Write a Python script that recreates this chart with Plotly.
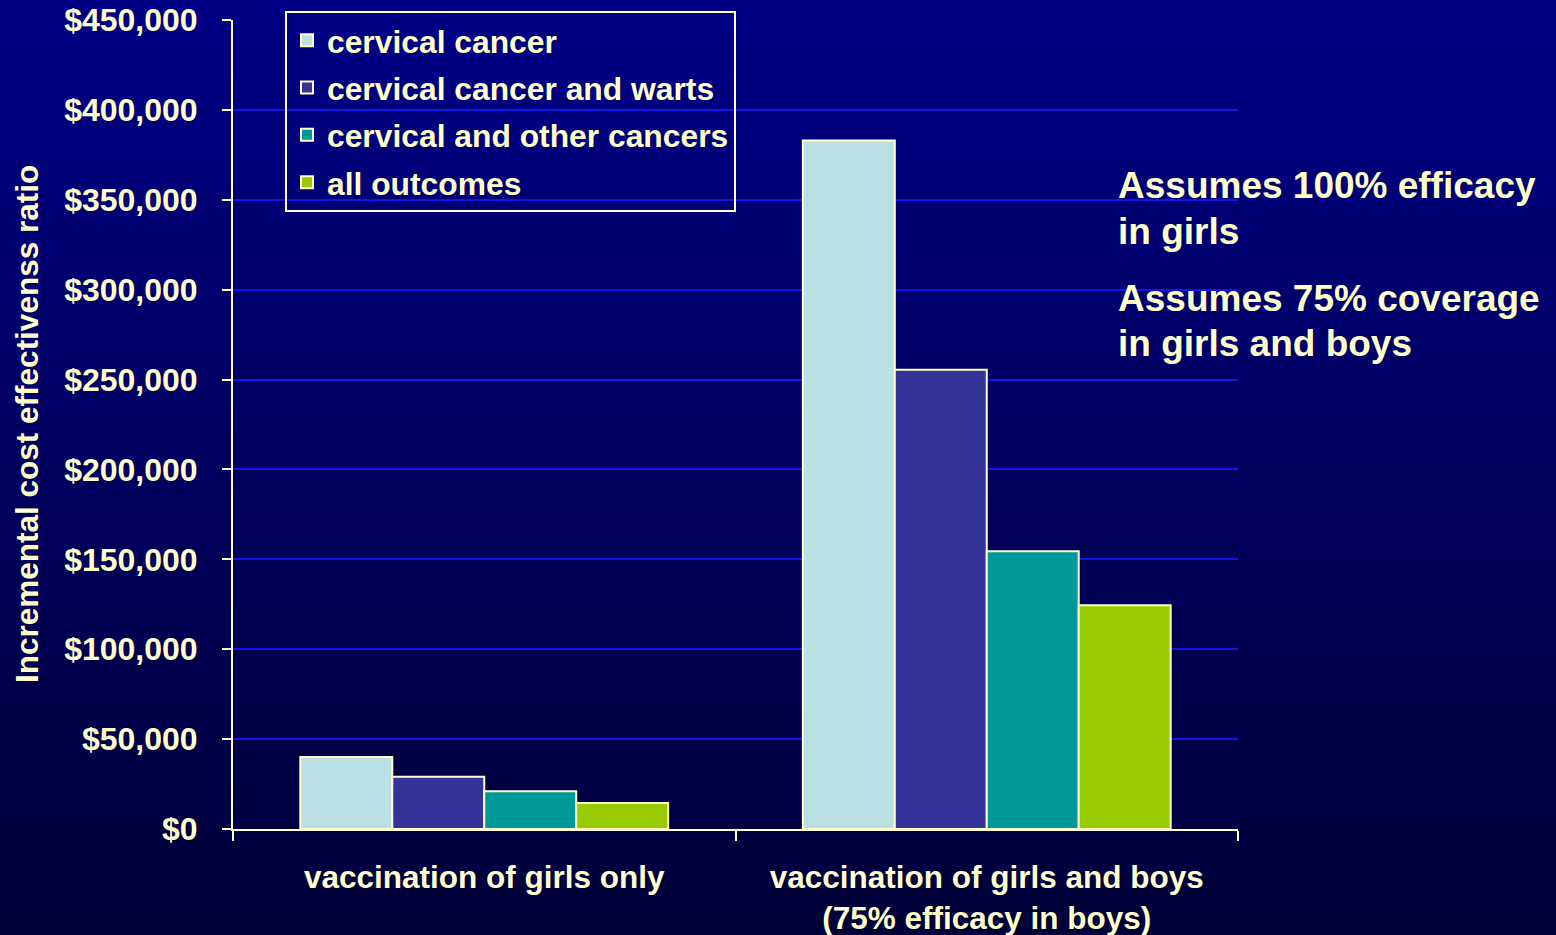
import plotly.graph_objects as go

categories = ["vaccination of girls only", "vaccination of girls and boys<br>(75% efficacy in boys)"]
series_names = ["cervical cancer", "cervical cancer and warts", "cervical and other cancers", "all outcomes"]
cervical_cancer = [40000, 383000]
cervical_warts = [29000, 255500]
cervical_other = [21000, 154500]
all_outcomes = [14500, 124500]
series_values = [cervical_cancer, cervical_warts, cervical_other, all_outcomes]
series_colors = ["#BBE0E3", "#333399", "#009999", "#99CC00"]
y_ticks = [0, 50000, 100000, 150000, 200000, 250000, 300000, 350000, 400000, 450000]
y_tick_labels = ["$" + format(v, ",") for v in y_ticks]
note_lines = ["Assumes 100% efficacy", "in girls", "Assumes 75% coverage", "in girls and boys"]

CREAM = "#FFFFCC"
FONT = "Liberation Sans, Arial, sans-serif"
W, H = 1556, 935
ML, MR, MT, MB = 233, 318, 20, 106
PH = H - MT - MB
PW = W - ML - MR

fig = go.Figure()
for name, vals, col in zip(series_names, series_values, series_colors):
    fig.add_trace(go.Bar(
        x=categories, y=vals, name=name, legendgroup=name,
        marker=dict(color=col, line=dict(color=CREAM, width=2)),
    ))

# gradient background
shapes = []
top_c = (0, 0, 134)
bot_c = (0, 0, 56)
N = 60
for i in range(N):
    y0px = H * i / N
    y1px = H * (i + 1) / N
    t = (i + 0.5) / N
    c = tuple(int(round(top_c[k] + (bot_c[k] - top_c[k]) * t)) for k in range(3))
    shapes.append(dict(
        type="rect", xref="paper", yref="paper", layer="below",
        x0=-ML / PW, x1=1 + MR / PW,
        y0=(H - MB - y1px) / PH, y1=(H - MB - y0px) / PH + 0.002,
        fillcolor="rgb(%d,%d,%d)" % c, line=dict(width=0),
    ))

note_y_px = [186, 231, 298, 343]
annotations = [
    dict(text="Incremental cost effectivenss ratio", textangle=-90,
         xref="paper", yref="paper", x=(27 - ML) / PW, y=(H - MB - 424) / PH,
         xanchor="center", yanchor="middle", showarrow=False,
         font=dict(family=FONT, color=CREAM, size=31.5, weight="bold")),
]
for txt, ypx in zip(note_lines, note_y_px):
    annotations.append(dict(
        text=txt, align="left", xref="paper", yref="paper",
        x=(1116 - ML) / PW, y=(H - MB - ypx) / PH,
        xanchor="left", yanchor="middle", showarrow=False,
        font=dict(family=FONT, color=CREAM, size=37, weight="bold")))

fig.update_layout(
    width=W, height=H,
    margin=dict(l=ML, r=MR, t=MT, b=MB, autoexpand=False),
    paper_bgcolor="#000050", plot_bgcolor="rgba(0,0,0,0)",
    barmode="group", bargap=0.268, bargroupgap=0,
    font=dict(family=FONT, color=CREAM, size=32, weight="bold"),
    shapes=shapes,
    legend=dict(
        x=(285 - ML) / PW, y=(H - MB - 11) / PH, xanchor="left", yanchor="top",
        bgcolor="rgba(0,0,0,0)", bordercolor=CREAM, borderwidth=2,
        font=dict(family=FONT, color=CREAM, size=31.8, weight="bold"),
        tracegroupgap=3, traceorder="grouped",
    ),
    xaxis=dict(
        showgrid=False, showline=True, linecolor=CREAM, linewidth=2,
        ticks="outside", tickson="boundaries", ticklen=10, tickcolor=CREAM, tickwidth=2,
        tickfont=dict(family=FONT, color=CREAM, size=31.5, weight="bold"),
        ticklabelstandoff=19, automargin=False,
    ),
    yaxis=dict(
        range=[0, 450000], tickvals=y_ticks, ticktext=y_tick_labels,
        showgrid=True, gridcolor="#1414E6", gridwidth=1.5,
        showline=True, linecolor=CREAM, linewidth=2,
        ticks="outside", ticklen=9, tickcolor=CREAM, tickwidth=2,
        tickfont=dict(family=FONT, color=CREAM, size=32, weight="bold"),
        ticklabelstandoff=18, zeroline=False, automargin=False,
    ),
    annotations=annotations,
)

fig.write_html("out.html", config={"displayModeBar": False},
               post_script="document.body.style.margin='0';document.body.style.overflow='hidden';")
